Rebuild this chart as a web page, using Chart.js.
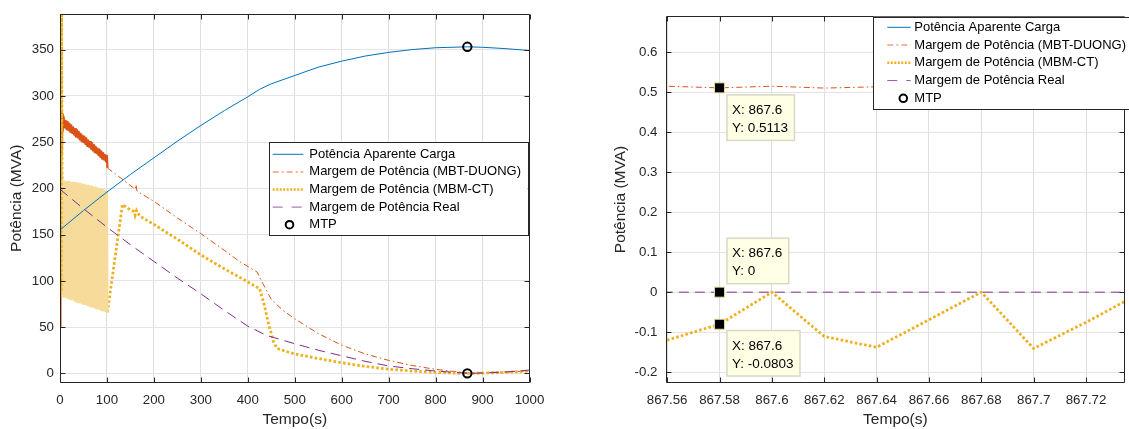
<!DOCTYPE html>
<html>
<head>
<meta charset="utf-8">
<script src="https://cdn.jsdelivr.net/npm/chart.js@4.4.0/dist/chart.umd.min.js"></script>
<style>
  html, body { margin: 0; padding: 0; background: #fff; overflow: hidden; width: 1129px; height: 429px; }
  canvas { position: absolute; top: 0; }
  #esquerda { left: 0; }
  #direita { left: 560px; }
</style>
</head>
<body>
<canvas id="esquerda" width="560" height="429"></canvas>
<canvas id="direita" width="571" height="429"></canvas>
<script>
// ---- painel da esquerda: simulação completa, 0 a 1000 s ----
const tCarga = [0, 50, 100, 150, 200, 250, 300, 350, 400, 425, 450, 500, 550, 600, 650, 700, 750, 800, 867.58, 900, 950, 1000];
const pCarga = [155, 176, 196, 215, 233, 251, 268, 284, 299, 307, 313, 322, 331, 337.5, 343, 347, 350, 352, 353, 352.5, 351, 349];

const tMBT = [0, 1, 3, 4, 5, 6, 7,
  8, 10, 12, 14, 16, 18, 20, 22, 24, 26, 28, 30, 32, 34, 36, 38, 40, 42, 44, 46, 48, 50,
  52, 54, 56, 58, 60, 62, 64, 66, 68, 70, 72, 74, 76, 78, 80, 82, 84, 86, 88, 90, 92, 94, 96, 98, 100,
  101, 105, 130, 155, 160, 162, 164, 200, 250, 300, 350, 382, 420, 430, 450, 475, 500,
  550, 600, 650, 700, 750, 800, 850, 867.58, 900, 950, 1000];
const pMBT = [50, 240, 283, 236, 280, 262, 277,
  275, 266, 273, 264, 272, 263, 270, 261, 268, 260, 266, 258, 264, 256, 263, 255, 261, 253, 259, 251, 257, 250,
  256, 248, 254, 246, 252, 245, 250, 243, 249, 241, 247, 239, 245, 238, 243, 236, 242, 234, 240, 232, 238, 231, 236, 229, 235,
  222, 220.5, 211, 201, 199, 204, 197, 186, 168, 151, 133, 121, 109.5, 99, 80, 68, 59,
  43, 30.5, 21, 14, 8.5, 4.3, 1.5, 0.51, 0.8, 1.5, 2.5];

const tMBM = [0, 1, 2, 3,
  4, 6, 8, 10, 12, 14, 16, 18, 20, 22, 24, 26, 28, 30, 32, 34, 36, 38, 40, 42, 44, 46, 48, 50,
  52, 54, 56, 58, 60, 62, 64, 66, 68, 70, 72, 74, 76, 78, 80, 82, 84, 86, 88, 90, 92, 94, 96, 98, 100,
  101, 133, 140, 150, 158, 160, 163, 170, 200, 250, 300, 350, 382, 420, 425, 435, 445, 455, 462, 480, 500,
  550, 600, 650, 700, 750, 800, 850, 867.58, 900, 950, 1000];
const pMBM = [85, 400, 88, 400,
  208, 83, 208, 83, 207, 82, 207, 81, 207, 80, 206, 80, 206, 79, 206, 78, 205, 77, 205, 77, 205, 76, 204, 75,
  204, 75, 203, 74, 203, 73, 202, 72, 202, 72, 201, 71, 201, 70, 200, 70, 199, 69, 199, 68, 198, 68, 197, 67, 196,
  66, 182.5, 180, 176.5, 175, 171, 176, 170, 161, 145, 128, 113, 104, 93, 92, 74, 52, 34, 27, 24, 21,
  16, 11.5, 7.5, 4.5, 2.5, 1, 0.1, -0.08, 0.2, 1, 2.5];

const tReal = [0, 50, 100, 150, 200, 250, 300, 350, 400, 440, 500, 550, 600, 650, 700, 750, 800, 850, 867.58, 900, 950, 1000];
const pReal = [199, 178, 158, 139, 121, 103, 86, 68, 51, 41, 32, 25, 19, 13, 8, 5, 2.5, 0.7, 0, 0.3, 1.5, 3.5];

const tMTP = [867.58, 867.58];
const pMTP = [353, 0];

const xTicks = [0, 100, 200, 300, 400, 500, 600, 700, 800, 900, 1000];
const xLabels = ['0', '100', '200', '300', '400', '500', '600', '700', '800', '900', '1000'];
const yTicks = [0, 50, 100, 150, 200, 250, 300, 350];
const yLabels = ['0', '50', '100', '150', '200', '250', '300', '350'];

// ---- painel da direita: zoom em torno do MTP ----
const zT = [867.54, 867.56, 867.58, 867.60, 867.62, 867.64, 867.66, 867.68, 867.70, 867.72, 867.74, 867.76];
const zCarga = [353, 353, 353, 353, 353, 353, 353, 353, 353, 353, 353, 353];
const zMBT = [0.514, 0.5155, 0.5113, 0.5155, 0.5108, 0.514, 0.512, 0.514, 0.511, 0.513, 0.512, 0.5135];
const zMBM = [-0.10, -0.12, -0.0803, 0.0, -0.111, -0.138, -0.069, 0.0, -0.141, -0.0754, -0.005, -0.06];
const zReal = [0, 0, 0, 0, 0, 0, 0, 0, 0, 0, 0, 0];
const zTMTP = [867.58];
const zMTP = [0];

const zXTicks = [867.56, 867.58, 867.60, 867.62, 867.64, 867.66, 867.68, 867.70, 867.72];
const zXLabels = ['867.56', '867.58', '867.6', '867.62', '867.64', '867.66', '867.68', '867.7', '867.72'];
const zYTicks = [-0.2, -0.1, 0, 0.1, 0.2, 0.3, 0.4, 0.5, 0.6];
const zYLabels = ['-0.2', '-0.1', '0', '0.1', '0.2', '0.3', '0.4', '0.5', '0.6'];

// datatips
const tipX = [867.58, 867.58, 867.58];
const tipY = [0.5113, 0, -0.0803];
const tipTxtX = ['867.6', '867.6', '867.6'];
const tipTxtY = ['0.5113', '0', '-0.0803'];

const nomesLegenda = ['Potência Aparente Carga', 'Margem de Potência (MBT-DUONG)',
  'Margem de Potência (MBM-CT)', 'Margem de Potência Real', 'MTP'];

const fonte = '"Liberation Sans", Arial, Helvetica, sans-serif';
Chart.defaults.font.family = fonte;
Chart.defaults.font.size = 13;
Chart.defaults.color = '#262626';

const AZUL = '#0072BD', VERMELHO = '#D95319', AMARELO = '#EDB120', ROXO = '#7E2F8E';
const TRACO_PONTO = [6, 3, 1.5, 3], PONTILHADO = [2.6, 2.2], TRACEJADO = [10, 6];

const estilosLegenda = [
  { cor: AZUL, largura: 1, traco: [] },
  { cor: 'rgba(217,83,25,0.55)', largura: 1.5, traco: [6, 3, 2, 3] },
  { cor: AMARELO, largura: 2.5, traco: [2, 1.5] },
  { cor: 'rgba(126,47,142,0.8)', largura: 1, traco: [10, 9] },
  { circulo: true }
];

function pares(ts, vs) { return ts.map((t, i) => ({ x: t, y: vs[i] })); }
function trecho(ts, vs, ini, fim) { return pares(ts, vs).filter(p => p.x >= ini && p.x <= fim); }

function desenhaLegenda(ctx, lg) {
  ctx.save();
  ctx.fillStyle = '#fff';
  ctx.fillRect(lg.x, lg.y, lg.w, lg.h);
  ctx.strokeStyle = '#262626';
  ctx.lineWidth = 1;
  ctx.strokeRect(Math.round(lg.x) + 0.5, Math.round(lg.y) + 0.5, Math.round(lg.w), Math.round(lg.h));
  ctx.font = '13px ' + fonte;
  ctx.textBaseline = 'middle';
  nomesLegenda.forEach((nome, i) => {
    const y = lg.row0 + i * lg.rowH;
    const st = estilosLegenda[i];
    if (st.circulo) {
      ctx.setLineDash([]);
      ctx.strokeStyle = '#000';
      ctx.lineWidth = 2;
      ctx.beginPath();
      ctx.arc(lg.mtpX, y, 3.8, 0, Math.PI * 2);
      ctx.stroke();
    } else {
      ctx.setLineDash(st.traco);
      ctx.strokeStyle = st.cor;
      ctx.lineWidth = st.largura;
      ctx.beginPath();
      ctx.moveTo(lg.s0, y);
      ctx.lineTo(lg.s1, y);
      ctx.stroke();
    }
    ctx.setLineDash([]);
    ctx.fillStyle = '#000';
    ctx.fillText(nome, lg.tx, y);
  });
  ctx.restore();
}

function desenhaDicas(chart, dicas) {
  const { ctx, scales } = chart;
  ctx.save();
  ctx.font = '13.5px ' + fonte;
  ctx.textBaseline = 'middle';
  tipX.forEach((xv, i) => {
    const px = scales.x.getPixelForValue(xv);
    const py = scales.y.getPixelForValue(tipY[i]);
    const l1 = 'X: ' + tipTxtX[i], l2 = 'Y: ' + tipTxtY[i];
    const w = Math.max(ctx.measureText(l1).width, ctx.measureText(l2).width) + 11.5;
    const bx = px + dicas[i].dx, by = py + dicas[i].dy, h = 45.5;
    ctx.fillStyle = '#FFFFE6';
    ctx.fillRect(bx, by, w, h);
    ctx.strokeStyle = '#d8d8c4';
    ctx.lineWidth = 1.5;
    ctx.strokeRect(bx, by, w, h);
    ctx.fillStyle = '#000';
    ctx.fillText(l1, bx + 5, by + 15.3);
    ctx.fillText(l2, bx + 5, by + 33.3);
    ctx.fillRect(px - 5, py - 5, 10, 10);
    ctx.strokeStyle = '#e2dca0';
    ctx.lineWidth = 1;
    ctx.strokeRect(px - 5, py - 5, 10, 10);
  });
  ctx.restore();
}

const molduraMatlab = {
  id: 'molduraMatlab',
  afterDraw(chart, args, o) {
    const { ctx, chartArea: a, scales } = chart;
    const L = Math.round(a.left) + 0.5, R = Math.round(a.right) - 0.5;
    const T = Math.round(a.top) + 0.5, B = Math.round(a.bottom) - 0.5;
    ctx.save();
    ctx.strokeStyle = '#262626';
    ctx.lineWidth = 1;
    ctx.beginPath();
    ctx.rect(L, T, R - L, B - T);
    scales.x.ticks.forEach(t => {
      const px = Math.round(scales.x.getPixelForValue(t.value)) + 0.5;
      ctx.moveTo(px, B); ctx.lineTo(px, B - 5);
      ctx.moveTo(px, T); ctx.lineTo(px, T + 5);
    });
    scales.y.ticks.forEach(t => {
      const py = Math.round(scales.y.getPixelForValue(t.value)) + 0.5;
      ctx.moveTo(L, py); ctx.lineTo(L + 5, py);
      ctx.moveTo(R, py); ctx.lineTo(R - 5, py);
    });
    ctx.stroke();
    ctx.restore();
    desenhaLegenda(ctx, o.legenda);
    if (o.dicas) desenhaDicas(chart, o.dicas);
  }
};

function eixos(o) {
  return {
    x: {
      type: 'linear', min: o.xMin, max: o.xMax,
      afterBuildTicks: s => { s.ticks = o.xTicks.map(v => ({ value: v })); },
      afterFit: s => { s.height = 46.5; },
      grid: { color: '#dedede', drawTicks: false },
      border: { display: false },
      ticks: { autoSkip: false, maxRotation: 0, padding: 10, font: { size: 13.3 }, callback: (v, i) => o.xLabels[i] },
      title: { display: true, text: 'Tempo(s)', font: { size: 15.5, lineHeight: 1.2 }, padding: { top: 0, bottom: 0 } }
    },
    y: {
      type: 'linear', min: o.yMin, max: o.yMax,
      afterBuildTicks: s => { s.ticks = o.yTicks.map(v => ({ value: v })); },
      afterFit: s => { s.width = o.yWidth; },
      grid: { color: '#e4e4e4', drawTicks: false },
      border: { display: false },
      ticks: { autoSkip: false, padding: o.yPad, font: { size: 13.3 }, callback: (v, i) => o.yLabels[i] },
      title: { display: true, text: 'Potência (MVA)', font: { size: 15.5, lineHeight: 1.2 }, padding: { top: o.yTitlePad, bottom: 0 } }
    }
  };
}

const linha = { pointRadius: 0, borderWidth: 1 };

const conjuntosEsq = [
  { ...linha, data: pares(tCarga, pCarga), borderColor: AZUL, order: 1 },
  // faixa de oscilação do MBT-DUONG (0 a 100 s) fica cheia
  { ...linha, data: trecho(tMBT, pMBT, 0, 101), borderColor: VERMELHO, borderWidth: 2.2,
    borderJoinStyle: 'round', order: 4 },
  { ...linha, data: trecho(tMBT, pMBT, 101, 1000), borderColor: VERMELHO, borderDash: TRACO_PONTO, order: 4 },
  { ...linha, data: trecho(tMBM, pMBM, 0, 4), borderColor: AMARELO, borderWidth: 3.2, borderDash: PONTILHADO, order: 3 },
  // faixa de oscilação do MBM-CT: o pontilhado denso vira um tom claro
  { ...linha, data: trecho(tMBM, pMBM, 4, 101), borderColor: '#F6DB9A', borderWidth: 2.2,
    borderJoinStyle: 'round', order: 3 },
  { ...linha, data: trecho(tMBM, pMBM, 101, 1000), borderColor: AMARELO, borderWidth: 2.8, borderDash: PONTILHADO, order: 3 },
  { ...linha, data: pares(tReal, pReal), borderColor: ROXO, borderDash: TRACEJADO, order: 2 },
  { data: pares(tMTP, pMTP), showLine: false, pointRadius: 4.2, pointBorderWidth: 2,
    pointBorderColor: '#000', pointBackgroundColor: 'rgba(0,0,0,0)', order: 0 }
];

const conjuntosDir = [
  { ...linha, data: pares(zT, zCarga), borderColor: AZUL, order: 1 },
  { ...linha, data: pares(zT, zMBT), borderColor: VERMELHO, borderDash: TRACO_PONTO, order: 4 },
  { ...linha, data: pares(zT, zMBM), borderColor: AMARELO, borderWidth: 2.8, borderDash: PONTILHADO, order: 3 },
  { ...linha, data: pares(zT, zReal), borderColor: ROXO, borderDash: TRACEJADO, order: 2 },
  { data: pares(zTMTP, zMTP), showLine: false, pointRadius: 4.2, pointBorderWidth: 2,
    pointBorderColor: '#000', pointBackgroundColor: 'rgba(0,0,0,0)', order: 0 }
];

function opcoes(eixo, moldura, padding) {
  return {
    responsive: false,
    animation: false,
    layout: { padding: padding },
    scales: eixos(eixo),
    plugins: { legend: { display: false }, tooltip: { enabled: false }, molduraMatlab: moldura }
  };
}

new Chart(document.getElementById('esquerda'), {
  type: 'line',
  data: { datasets: conjuntosEsq },
  options: opcoes(
    { xMin: 0, xMax: 1000, yMin: -9.9, yMax: 388.5, xTicks, xLabels, yTicks, yLabels,
      yWidth: 60, yPad: 6, yTitlePad: 7.7 },
    { legenda: { x: 269, y: 142.3, w: 258.7, h: 92.7, row0: 154.3, rowH: 17.6,
                 s0: 272.7, s1: 303.3, tx: 309.3, mtpX: 289.5 } },
    { top: 13, right: 30.5, bottom: 0, left: 0 }
  ),
  plugins: [molduraMatlab]
});

new Chart(document.getElementById('direita'), {
  type: 'line',
  data: { datasets: conjuntosDir },
  options: opcoes(
    { xMin: 867.55955, xMax: 867.73481, yMin: -0.2261, yMax: 0.69,
      xTicks: zXTicks, xLabels: zXLabels, yTicks: zYTicks, yLabels: zYLabels,
      yWidth: 106, yPad: 8.5, yTitlePad: 51.7 },
    { legenda: { x: 313.3, y: 16.7, w: 300, h: 92.3, row0: 27.3, rowH: 17.75,
                 s0: 327.3, s1: 350.7, tx: 354.3, mtpX: 343.3 },
      dicas: [{ dx: 7.4, dy: 7 }, { dx: 7.4, dy: -54 }, { dx: 7.4, dy: 6.3 }] },
    { top: 13, right: 0, bottom: 0, left: 0 }
  ),
  plugins: [molduraMatlab]
});
</script>
</body>
</html>
